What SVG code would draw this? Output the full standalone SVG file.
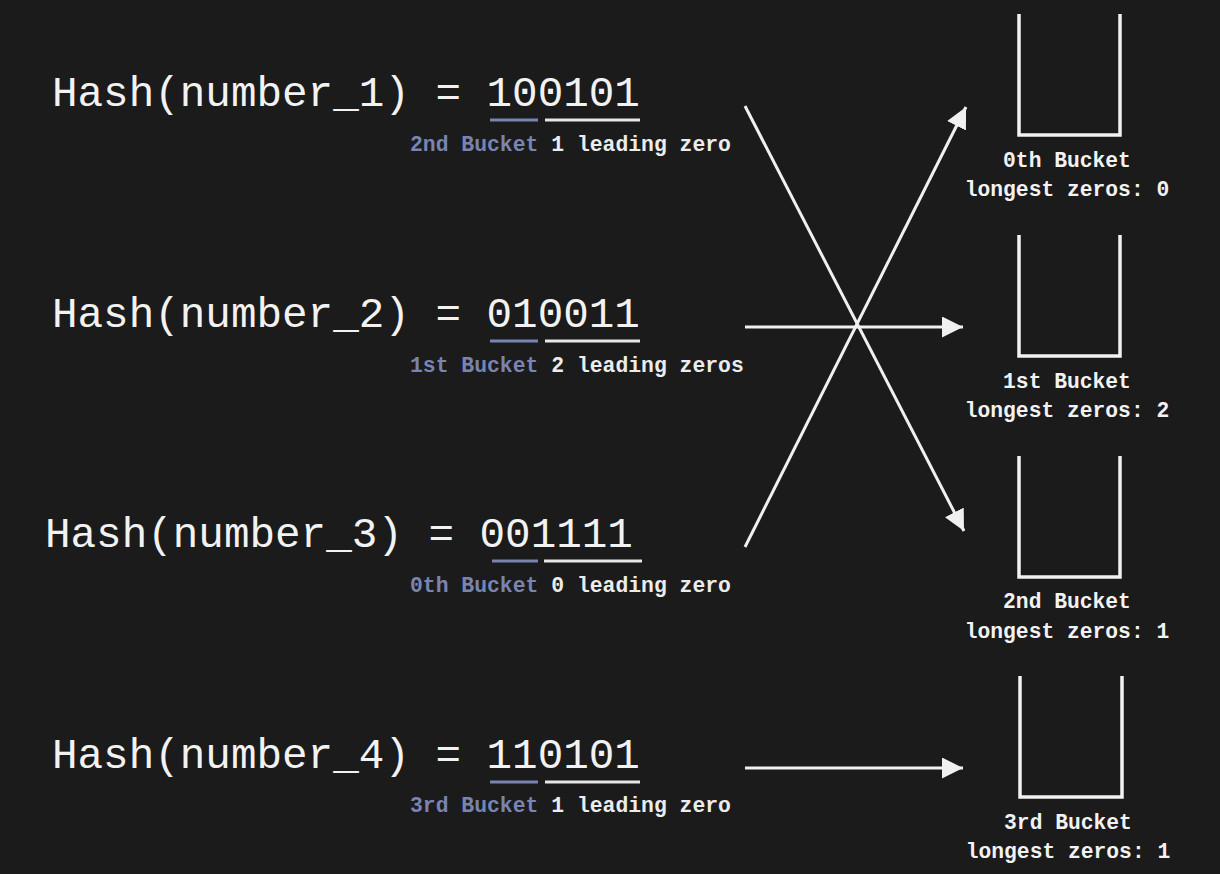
<svg xmlns="http://www.w3.org/2000/svg" width="1220" height="874" viewBox="0 0 1220 874">
<defs>
<style>
.main{font-family:"Liberation Mono","DejaVu Sans Mono",monospace;font-size:42.6px;fill:#f2f2f2}
.sub{font-family:"Liberation Mono","DejaVu Sans Mono",monospace;font-size:21.4px;font-weight:bold;fill:#ececec}
.blue{fill:#7984b0}
.lbl{font-family:"Liberation Mono","DejaVu Sans Mono",monospace;font-size:21.3px;font-weight:bold;fill:#f2f2f2;text-anchor:middle}
.ulb{stroke:#7984b0;stroke-width:3}
.ulw{stroke:#e6e6e6;stroke-width:3}
.bucket{fill:none;stroke:#f2f2f2;stroke-width:3.5}
.conn{stroke:#f0f0f0;stroke-width:3;fill:none}
</style>
<marker id="ah" viewBox="0 0 10 10" refX="10" refY="5" markerWidth="7" markerHeight="7" markerUnits="strokeWidth" orient="auto">
<path d="M0,0 L10,5 L0,10 z" fill="#f0f0f0"/>
</marker>
</defs>
<rect width="1220" height="874" fill="#1b1b1b"/>

<g id="hash1">
<text class="main" x="52" y="106">Hash(number_1) = 100101</text>
<line class="ulb" x1="490" y1="120" x2="538" y2="120"/>
<line class="ulw" x1="545" y1="120" x2="640" y2="120"/>
<text class="sub" x="410" y="151"><tspan class="blue">2nd Bucket</tspan> 1 leading zero</text>
</g>
<g id="hash2">
<text class="main" x="52" y="327">Hash(number_2) = 010011</text>
<line class="ulb" x1="490" y1="341" x2="538" y2="341"/>
<line class="ulw" x1="545" y1="341" x2="640" y2="341"/>
<text class="sub" x="410" y="372"><tspan class="blue">1st Bucket</tspan> 2 leading zeros</text>
</g>
<g id="hash3">
<text class="main" x="45" y="547">Hash(number_3) = 001111</text>
<line class="ulb" x1="492" y1="561" x2="538" y2="561"/>
<line class="ulw" x1="544" y1="561" x2="642" y2="561"/>
<text class="sub" x="410" y="592"><tspan class="blue">0th Bucket</tspan> 0 leading zero</text>
</g>
<g id="hash4">
<text class="main" x="52" y="768">Hash(number_4) = 110101</text>
<line class="ulb" x1="490" y1="782" x2="538" y2="782"/>
<line class="ulw" x1="545" y1="782" x2="640" y2="782"/>
<text class="sub" x="410" y="812"><tspan class="blue">3rd Bucket</tspan> 1 leading zero</text>
</g>

<g id="bucket0">
<path class="bucket" d="M1019,14 V135 H1120 V14"/>
<text class="lbl" x="1067" y="167">0th Bucket</text>
<text class="lbl" x="1067" y="196">longest zeros: 0</text>
</g>
<g id="bucket1">
<path class="bucket" d="M1019,235 V356 H1120 V235"/>
<text class="lbl" x="1067" y="388">1st Bucket</text>
<text class="lbl" x="1067" y="417">longest zeros: 2</text>
</g>
<g id="bucket2">
<path class="bucket" d="M1019,456 V577 H1120 V456"/>
<text class="lbl" x="1067" y="608">2nd Bucket</text>
<text class="lbl" x="1067" y="638">longest zeros: 1</text>
</g>
<g id="bucket3">
<path class="bucket" d="M1020,676 V797 H1122 V676"/>
<text class="lbl" x="1068" y="829">3rd Bucket</text>
<text class="lbl" x="1068" y="858">longest zeros: 1</text>
</g>

<g id="connectors">
<line class="conn" x1="745" y1="106" x2="964" y2="531" marker-end="url(#ah)"/>
<line class="conn" x1="745" y1="327" x2="963" y2="327" marker-end="url(#ah)"/>
<line class="conn" x1="745" y1="547" x2="966" y2="107" marker-end="url(#ah)"/>
<line class="conn" x1="745" y1="768" x2="963" y2="768" marker-end="url(#ah)"/>
</g>
</svg>
